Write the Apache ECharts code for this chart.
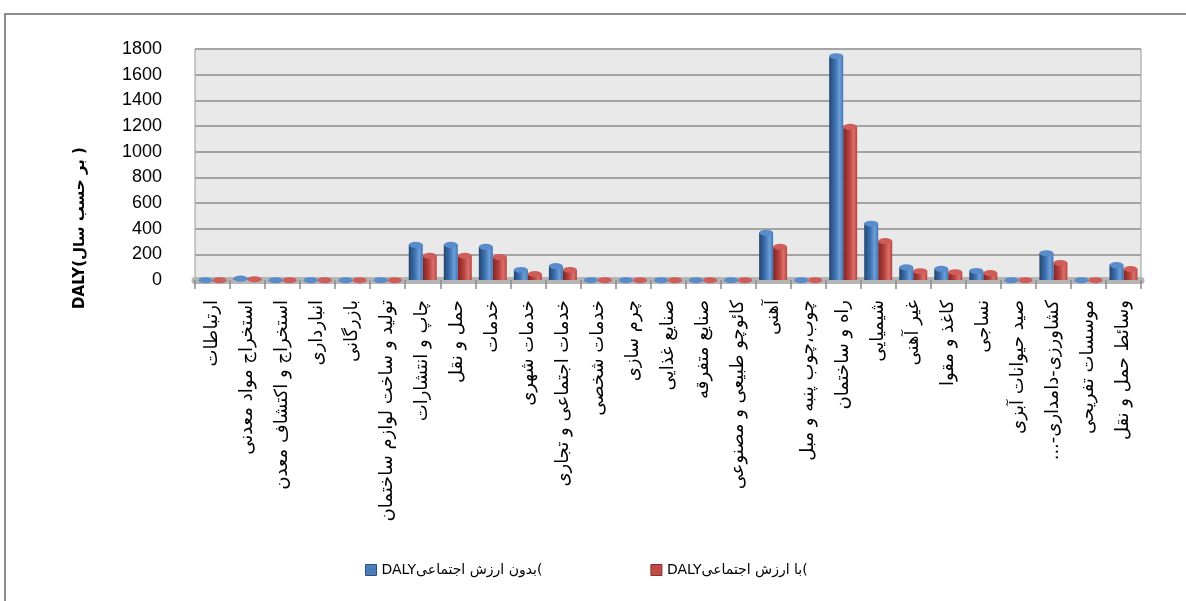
<!DOCTYPE html>
<html>
<head>
<meta charset="utf-8">
<script src="https://cdn.jsdelivr.net/npm/echarts@6/dist/echarts.min.js"></script>
<style>
  html, body { margin: 0; padding: 0; background: #fff; }
  #frame { position: absolute; left: 4px; top: 13px; width: 1200px; height: 620px; border: 2px solid #8c8c8c; box-sizing: border-box; }
  #pic { position: absolute; left: 0; top: 0; width: 1186px; height: 601px; }
</style>
</head>
<body>
<div id="frame"></div>
<div id="pic"></div>
<script>
// categories (left to right as in the picture)
var categories = [
  "ارتباطات",
  "استخراج مواد معدنی",
  "استخراج و اکتشاف معدن",
  "انبارداری",
  "بازرگانی",
  "تولید و ساخت لوازم ساختمان",
  "چاپ و انتشارات",
  "حمل و نقل",
  "خدمات",
  "خدمات شهری",
  "خدمات اجتماعی و تجاری",
  "خدمات شخصی",
  "چرم سازی",
  "صنایع غذایی",
  "صنایع متفرقه",
  "کائوچو طبیعی و مصنوعی",
  "آهنی",
  "چوب،چوب پنبه و مبل",
  "راه و ساختمان",
  "شیمیایی",
  "غیر آهنی",
  "کاغذ و مقوا",
  "نساجی",
  "صید حیوانات آبزی",
  "کشاورزی-دامداری-...\u200F",
  "موسسات تفریحی",
  "وسائط حمل و نقل"
];
// DALY without social value (blue)
var withoutSocial = [0, 12, 0, 0, 0, 0, 275, 275, 260, 80, 110, 0, 0, 0, 0, 0, 370, 0, 1745, 440, 100, 88, 72, 0, 210, 0, 118];
// DALY with social value (red)
var withSocial = [0, 8, 0, 0, 0, 0, 190, 190, 180, 48, 80, 0, 0, 0, 0, 0, 260, 0, 1195, 305, 70, 62, 55, 0, 134, 0, 87];
var seriesNames = ["DALYبدون ارزش اجتماعی(", "DALYبا ارزش اجتماعی("];
var yTitle = "DALY(بر حسب سال )";
var yTicks = { min: 0, max: 1800, interval: 200 };

var myChart = echarts.init(document.getElementById("pic"));

function cyl(dark, mid, light) {
  return new echarts.graphic.LinearGradient(0, 0, 1, 0, [
    { offset: 0, color: dark },
    { offset: 0.45, color: mid },
    { offset: 0.75, color: light },
    { offset: 1, color: mid }
  ]);
}
var blueBody = cyl("#23466f", "#3f73b3", "#6e9fd8");
var redBody = cyl("#7e2624", "#b8433f", "#dc706c");
var arabicFont = "'DejaVu Sans', sans-serif";

var option = {
  backgroundColor: "transparent",
  textStyle: { fontFamily: "'Liberation Sans', 'DejaVu Sans', sans-serif" },
  grid: {
    left: 195,
    right: 45,
    top: 49,
    bottom: 321,
    show: true,
    backgroundColor: "#e9e9e9",
    borderColor: "#9a9a9a",
    borderWidth: 1
  },
  graphic: [
    {
      type: "text",
      x: 80,
      y: 228,
      rotation: Math.PI / 2,
      style: {
        text: yTitle,
        font: "bold 15px " + arabicFont,
        fill: "#000",
        align: "center",
        verticalAlign: "middle"
      }
    }
  ],
  legend: {
    bottom: 19,
    left: 360,
    itemWidth: 11,
    itemHeight: 11,
    itemGap: 108,
    icon: "rect",
    textStyle: { fontSize: 14, color: "#000", fontFamily: arabicFont }
  },
  xAxis: {
    type: "category",
    data: categories,
    axisLine: { show: true, lineStyle: { color: "#b5b5b5", width: 7 } },
    axisTick: { show: true, length: 9, lineStyle: { color: "#8c8c8c", width: 1.5 } },
    axisLabel: {
      interval: 0,
      rotate: 90,
      margin: 20,
      fontSize: 18,
      color: "#000",
      fontFamily: arabicFont
    }
  },
  yAxis: {
    type: "value",
    min: yTicks.min,
    max: yTicks.max,
    interval: yTicks.interval,
    axisLine: { show: false },
    axisTick: { show: false },
    axisLabel: { fontSize: 18, color: "#000", margin: 33, formatter: function (v) { return String(v); } },
    splitLine: { lineStyle: { color: "#a4a4a4", width: 2 } }
  },
  series: [
    {
      name: seriesNames[0],
      type: "bar",
      data: withoutSocial,
      barWidth: 14,
      barGap: "0%",
      itemStyle: { color: blueBody },
      z: 3
    },
    {
      name: seriesNames[1],
      type: "bar",
      data: withSocial,
      barWidth: 14,
      barGap: "0%",
      itemStyle: { color: redBody },
      z: 2
    },
    {
      name: "capBlue",
      type: "pictorialBar",
      data: withoutSocial,
      symbol: "circle",
      symbolSize: [14, 6],
      symbolOffset: [0, -3],
      symbolPosition: "end",
      barWidth: 14,
      barGap: "0%",
      itemStyle: { color: "#5a8ccc", borderColor: "#2f5b8f", borderWidth: 0.5 },
      z: 5
    },
    {
      name: "capRed",
      type: "pictorialBar",
      data: withSocial,
      symbol: "circle",
      symbolSize: [14, 6],
      symbolOffset: [0, -3],
      symbolPosition: "end",
      barWidth: 14,
      barGap: "0%",
      itemStyle: { color: "#cf5e5a", borderColor: "#8f2f2c", borderWidth: 0.5 },
      z: 4
    }
  ]
};
option.legend.data = [
  { name: seriesNames[0], itemStyle: { color: "#4a7ebb", borderColor: "#2c5282", borderWidth: 1 } },
  { name: seriesNames[1], itemStyle: { color: "#be4b48", borderColor: "#8c2f2c", borderWidth: 1 } }
];
myChart.setOption(option);
</script>
</body>
</html>
